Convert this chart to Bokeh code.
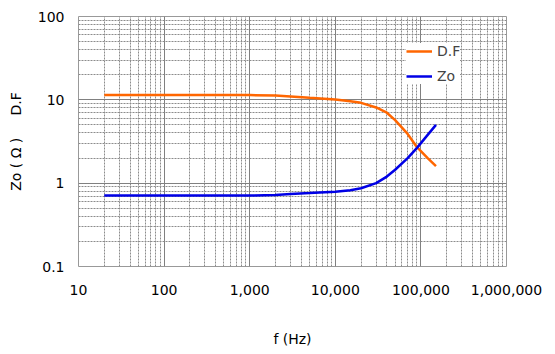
import numpy as np
from bokeh.plotting import figure
from bokeh.models import FixedTicker, Legend, LegendItem, Range1d
from bokeh.embed import file_html
from bokeh.resources import INLINE

freq = [20, 50, 100, 200, 500, 1000, 2000, 3000, 5000, 10000, 15000, 20000,
        30000, 40000, 50000, 70000, 90000, 120000, 150000]
df_vals = [11.4, 11.4, 11.4, 11.4, 11.4, 11.4, 11.3, 11.0, 10.6, 10.1, 9.6, 9.2,
           8.1, 7.0, 5.7, 3.9, 2.7, 2.0, 1.6]
zo_vals = [0.71, 0.71, 0.71, 0.71, 0.71, 0.71, 0.72, 0.74, 0.76, 0.79, 0.82, 0.87,
           1.0, 1.2, 1.45, 2.0, 2.65, 3.8, 5.0]

x_ticks = [10, 100, 1000, 10000, 100000, 1000000]
x_labels = ["10", "100", "1,000", "10,000", "100,000", "1,000,000"]
y_ticks = [0.1, 1, 10, 100]
y_labels = ["0.1", "1", "10", "100"]

FONT = "DejaVu Sans"
NB = "\u00a0"

p = figure(width=555, height=354, x_axis_type="log", y_axis_type="log",
           x_range=Range1d(10, 1e6), y_range=Range1d(0.1, 100),
           output_backend="svg", toolbar_location=None,
           min_border_left=78, min_border_right=49, min_border_top=16,
           min_border_bottom=88)

p.outline_line_color = "#999999"
p.background_fill_color = "white"

x_minor = [k * 10.0 ** d for d in range(1, 6) for k in range(2, 10)]
y_minor = [k * 10.0 ** d for d in range(-1, 2) for k in range(2, 10)]
p.xaxis.ticker = FixedTicker(ticks=x_ticks, minor_ticks=x_minor)
p.yaxis.ticker = FixedTicker(ticks=y_ticks, minor_ticks=y_minor)
p.xaxis.major_label_overrides = {t: l for t, l in zip(x_ticks, x_labels)}
p.yaxis.major_label_overrides = {t: l for t, l in zip(y_ticks, y_labels)}

for ax in (p.xaxis, p.yaxis):
    ax.axis_line_color = None
    ax.major_tick_line_color = None
    ax.minor_tick_line_color = None
    ax.major_tick_out = 0
    ax.major_tick_in = 0
    ax.minor_tick_out = 0
    ax.minor_tick_in = 0
    ax.major_label_text_font = FONT
    ax.major_label_text_font_size = "14px"
    ax.major_label_text_color = "black"
    ax.axis_label_text_font = FONT
    ax.axis_label_text_font_size = "14px"
    ax.axis_label_text_font_style = "normal"
    ax.axis_label_text_color = "black"

p.xaxis.major_label_standoff = 18
p.yaxis.major_label_standoff = 14
p.xaxis.axis_label = "f (Hz)"
p.xaxis.axis_label_standoff = 33
p.yaxis.axis_label = "Zo" + NB + "(" + NB + "Ω" + NB + ")" + NB * 5 + "D.F"
p.yaxis.axis_label_standoff = 11

for g in (p.xgrid, p.ygrid):
    g.grid_line_color = "#808080"
    g.grid_line_width = 1
    g.minor_grid_line_color = "#8c8c8c"
    g.minor_grid_line_width = 1
    g.minor_grid_line_dash = "2 1"

r_df = p.line(freq, df_vals, line_color="#FF6600", line_width=2.5)
r_zo = p.line(freq, zo_vals, line_color="#0000E6", line_width=2.5)

legend = Legend(items=[LegendItem(label="D.F", renderers=[r_df]),
                       LegendItem(label="Zo", renderers=[r_zo])],
                location=(328, 182))
legend.border_line_color = None
legend.background_fill_color = "white"
legend.background_fill_alpha = 1.0
legend.label_text_font = FONT
legend.label_text_font_size = "14px"
legend.glyph_width = 26
legend.glyph_height = 16
legend.label_height = 16
legend.spacing = 9
legend.padding = 6
legend.margin = 0
legend.label_standoff = 5
p.add_layout(legend, "center")

open("out.html", "w").write(file_html(p, INLINE))
